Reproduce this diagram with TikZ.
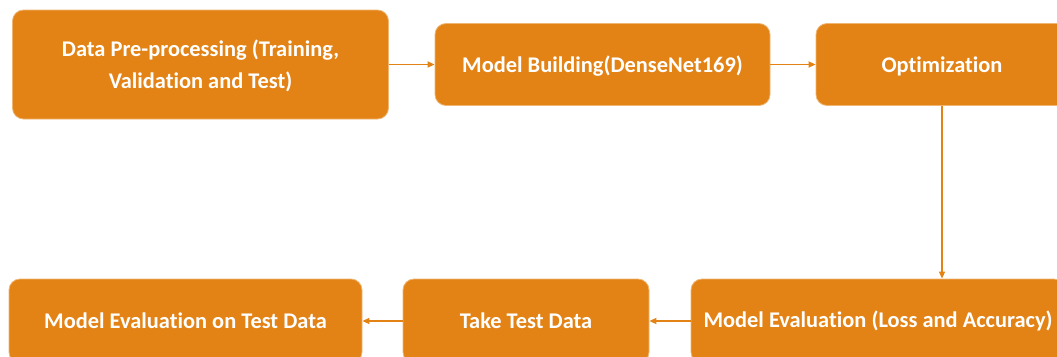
\documentclass[tikz,border=0pt]{standalone}
\usepackage{fontspec}
\setmainfont{Carlito}[Ligatures=NoCommon]
\usetikzlibrary{arrows.meta}
\definecolor{boxorange}{RGB}{227,131,22}
\begin{document}
\begin{tikzpicture}[x=1pt,y=-1pt,
  box/.style={draw=boxorange!60!white, line width=0.8pt, fill=boxorange, rounded corners=11pt,
    text=white, font=\bfseries\fontsize{22.4}{27}\selectfont, align=center,
    inner sep=0pt, anchor=center},
  toprow/.style={text depth=0pt},
  conn/.style={draw=boxorange, line width=1.6pt, -{Triangle[length=7pt,width=6pt]}}]
\useasboundingbox (0,0) rectangle (1057,356);
\node[box, toprow, minimum width=376pt, minimum height=109pt] (b1) at (200.5,64.5) {Data Pre-processing (Training,\\[5pt]Validation and Test)};
\node[box, toprow, minimum width=335pt, minimum height=82pt] (b2) at (602.5,64.5) {Model Building(DenseNet169)};
\node[box, toprow, minimum width=252pt, minimum height=82pt] (b3) at (942,64.5) {Optimization};
\node[box, minimum width=374pt, minimum height=84pt] (b6) at (878,321) {Model Evaluation (Loss and Accuracy)};
\node[box, minimum width=246pt, minimum height=84pt] (b5) at (526,321) {Take Test Data};
\node[box, minimum width=353pt, minimum height=84pt] (b4) at (185.5,321) {Model Evaluation on Test Data};
\draw[conn] (b1.east) -- (b2.west);
\draw[conn] (b2.east) -- (b3.west);
\draw[conn] (b3.south) -- (b3.south |- b6.north);
\draw[conn] (b6.west) -- (b5.east);
\draw[conn] (b5.west) -- (b4.east);
\end{tikzpicture}
\end{document}
